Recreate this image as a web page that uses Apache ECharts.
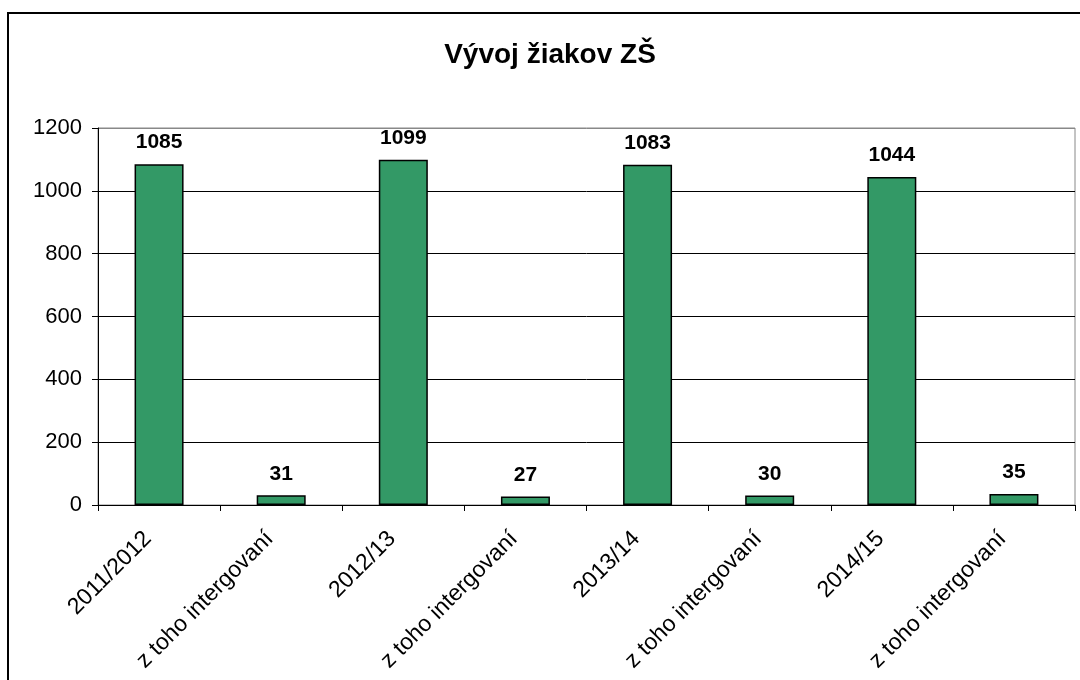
<!DOCTYPE html>
<html>
<head>
<meta charset="utf-8">
<script src="https://cdn.jsdelivr.net/npm/echarts@6/dist/echarts.min.js"></script>
<style>
  html, body { margin: 0; padding: 0; background: #fff; }
  #chart { width: 1080px; height: 680px; }
</style>
</head>
<body>
<div id="chart"></div>
<script>
// kategórie a hodnoty
var categories = ['2011/2012', 'z toho intergovaní', '2012/13', 'z toho intergovaní',
                  '2013/14', 'z toho intergovaní', '2014/15', 'z toho intergovaní'];
var pocty = [1085, 31, 1099, 27, 1083, 30, 1044, 35];
var yTicks = [0, 200, 400, 600, 800, 1000, 1200];

var font = 'Liberation Sans, Arial, sans-serif';

var chart = echarts.init(document.getElementById('chart'));
var option = {
    backgroundColor: '#fff',
    animation: false,
    title: {
        text: 'Vývoj žiakov ZŠ',
        left: 545,
        textAlign: 'center',
        top: 36,
        textStyle: { fontFamily: font, fontSize: 28, fontWeight: 'bold', color: '#000' }
    },
    // rámik okolo grafu
    graphic: [{
        type: 'rect',
        shape: { x: 8, y: 13, width: 1090, height: 700 },
        style: { fill: 'none', stroke: '#000', lineWidth: 2 },
        silent: true
    }],
    grid: {
        left: 98, right: 5, top: 128, bottom: 175,
        show: true,
        borderColor: '#888',
        borderWidth: 1
    },
    xAxis: {
        type: 'category',
        data: categories,
        axisLine: { lineStyle: { color: '#000', width: 1 } },
        axisTick: { show: true, alignWithLabel: false, length: 6, lineStyle: { color: '#000' } },
        axisLabel: {
            interval: 0,
            rotate: 45,
            margin: 19,
            padding: [0, 16, 0, 0],
            color: '#000',
            fontFamily: font,
            fontSize: 23
        }
    },
    yAxis: {
        type: 'value',
        min: yTicks[0],
        max: yTicks[yTicks.length - 1],
        interval: 200,
        axisLine: { show: true, lineStyle: { color: '#000', width: 1 } },
        axisTick: { show: true, length: 6, lineStyle: { color: '#000' } },
        axisLabel: {
            color: '#000', fontFamily: font, fontSize: 22, margin: 16,
            formatter: function (v) { return String(v); }
        },
        splitLine: {
            show: true,
            lineStyle: { color: ['#000', '#000', '#000', '#000', '#000', '#000', '#888'], width: 1 }
        }
    },
    series: [{
        type: 'bar',
        data: pocty,
        barWidth: 49,
        itemStyle: { color: '#339966', borderColor: '#000', borderWidth: 1.5 },
        label: {
            show: true,
            position: 'top',
            distance: 11,
            color: '#000',
            fontFamily: font,
            fontSize: 21,
            fontWeight: 'bold'
        }
    }]
};
chart.setOption(option);
</script>
</body>
</html>
